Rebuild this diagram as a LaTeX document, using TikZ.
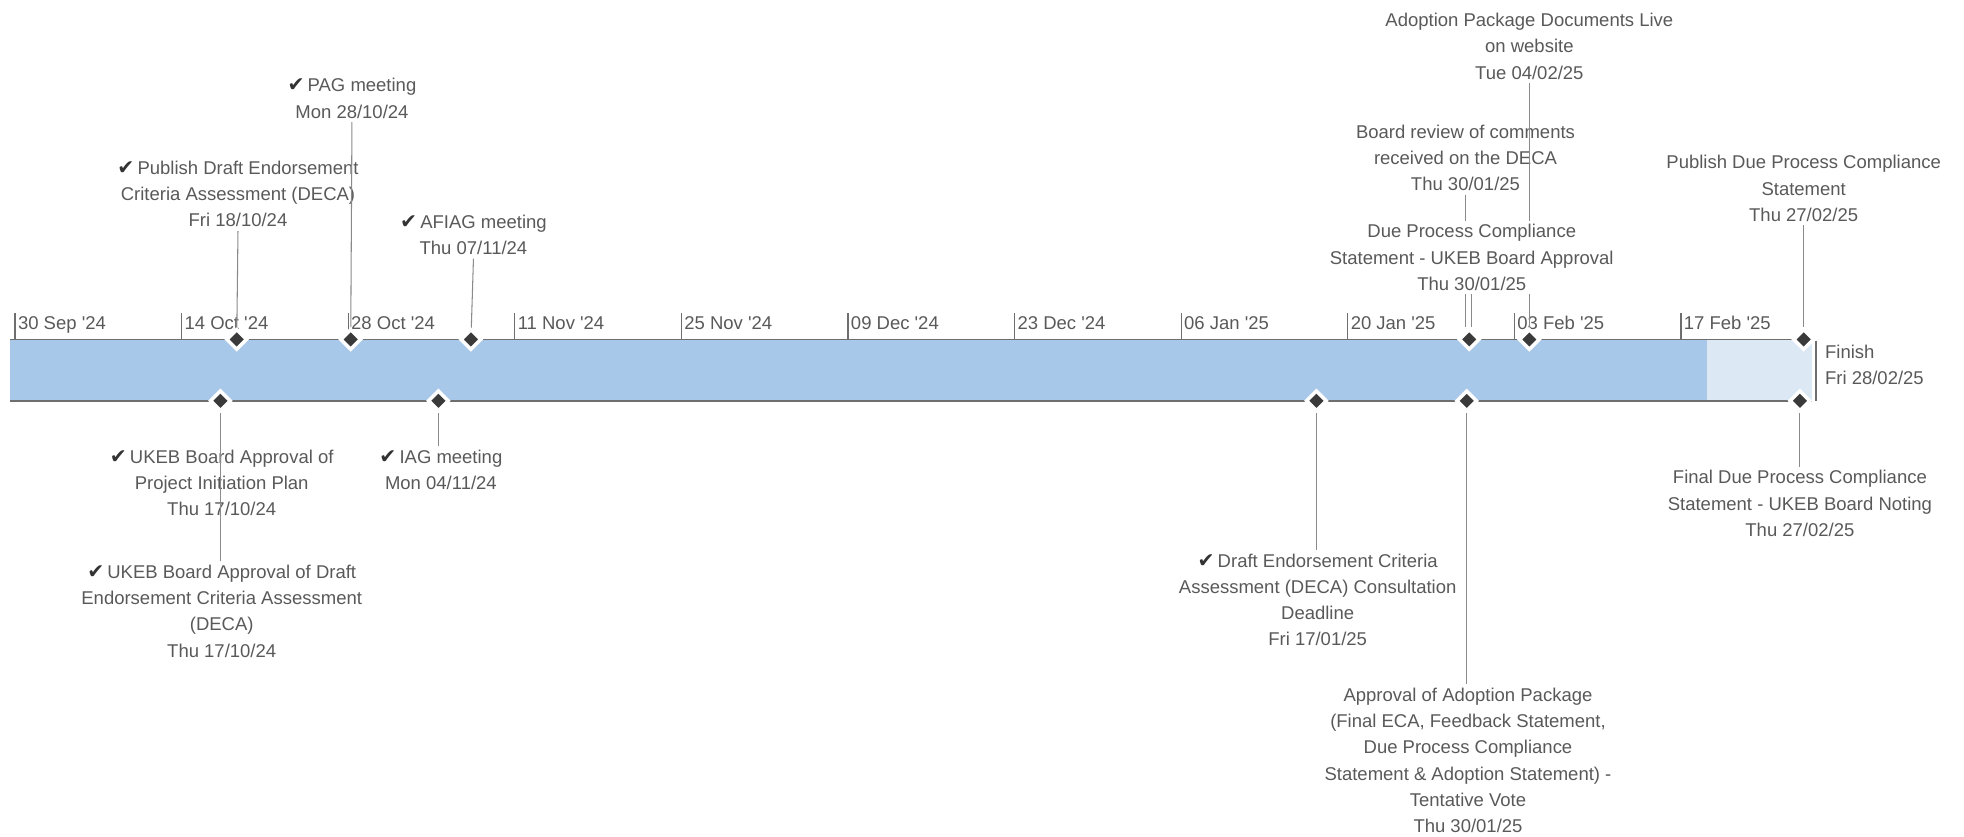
\documentclass[tikz,border=0pt]{standalone}
\usepackage{fontspec}
\setmainfont{Liberation Sans}[Ligatures=TeXOff]
\newfontfamily\checkfont{DejaVu Sans}
\usetikzlibrary{shapes.geometric}

\definecolor{txtgray}{HTML}{595959}
\definecolor{ckgray}{HTML}{333333}
\definecolor{barblue}{HTML}{A8C8E9}
\definecolor{barlight}{HTML}{DDE8F5}
\definecolor{linegray}{HTML}{8A8A8A}
\definecolor{axisgray}{HTML}{6E6E6E}
\definecolor{msdark}{HTML}{3A3A3A}

\newcommand{\eventfont}{\fontsize{10.5}{14.9}\selectfont}
\newcommand{\done}{{\checkfont\color{ckgray}\fontsize{11.5}{14.9}\selectfont ✔}\,}

\tikzstyle{milestone} = [diamond, fill=msdark, draw=white, line width=2pt, minimum size=0.42cm, inner sep=0pt]
\tikzstyle{event} = [align=center, text=txtgray, font=\eventfont, inner sep=2pt]
\tikzstyle{lead} = [draw=linegray, line width=0.6pt]
\tikzstyle{axis} = [draw=axisgray, line width=0.9pt]
\tikzstyle{datelabel} = [anchor=south west, text=txtgray, font=\eventfont, inner xsep=1.5pt, inner ysep=5.5pt, text height=7.5pt, text depth=0pt]
\tikzstyle{tickmark} = [draw=axisgray, line width=0.7pt]

\begin{document}
\begin{tikzpicture}[x=0.025cm, y=-0.025cm]

\useasboundingbox (0,0) rectangle (1568,668);

% timeline bar
\fill [barblue] (8,271) rectangle (1363,320);
\fill [barlight] (1363,271) rectangle (1447,320);
\draw [axis] (8,271) -- (1447,271);
\draw [axis] (8,320) -- (1447,320);
\draw [axis] (1450,272) -- (1450,320);
\node (finish) [event, anchor=west, align=left] at (1454,291.5) {Finish\\Fri 28/02/25};

% week scale
\node (w1) [datelabel] at (12,271) {30 Sep '24};
\node (w2) [datelabel] at (145,271) {14 Oct '24};
\node (w3) [datelabel] at (278,271) {28 Oct '24};
\node (w4) [datelabel] at (411,271) {11 Nov '24};
\node (w5) [datelabel] at (544,271) {25 Nov '24};
\node (w6) [datelabel] at (677,271) {09 Dec '24};
\node (w7) [datelabel] at (810,271) {23 Dec '24};
\node (w8) [datelabel] at (943,271) {06 Jan '25};
\node (w9) [datelabel] at (1076,271) {20 Jan '25};
\node (w10) [datelabel] at (1209,271) {03 Feb '25};
\node (w11) [datelabel] at (1342,271) {17 Feb '25};
\draw [tickmark] (w1.south west) -- ++(0,-21);
\draw [tickmark] (w2.south west) -- ++(0,-21);
\draw [tickmark] (w3.south west) -- ++(0,-21);
\draw [tickmark] (w4.south west) -- ++(0,-21);
\draw [tickmark] (w5.south west) -- ++(0,-21);
\draw [tickmark] (w6.south west) -- ++(0,-21);
\draw [tickmark] (w7.south west) -- ++(0,-21);
\draw [tickmark] (w8.south west) -- ++(0,-21);
\draw [tickmark] (w9.south west) -- ++(0,-21);
\draw [tickmark] (w10.south west) -- ++(0,-21);
\draw [tickmark] (w11.south west) -- ++(0,-21);

% milestones above the bar
\node (d1810) [milestone] at (189,271) {};
\node (d2810) [milestone] at (280,271) {};
\node (d0711) [milestone] at (376,271) {};
\node (d3001t) [milestone] at (1173,271) {};
\node (d0402) [milestone] at (1221,271) {};
\node (d2702t) [milestone] at (1440,271) {};

% milestones below the bar
\node (d1710) [milestone] at (176,320) {};
\node (d0411) [milestone] at (350,320) {};
\node (d1701) [milestone] at (1051,320) {};
\node (d3001b) [milestone] at (1171,320) {};
\node (d2702b) [milestone] at (1437,320) {};

% top events
\node (pag) [event] at (281,78.5) {\done PAG meeting\\Mon 28/10/24};
\node (pub) [event] at (190,155) {\done Publish Draft Endorsement\\Criteria Assessment (DECA)\\Fri 18/10/24};
\node (afiag) [event] at (378,187.5) {\done AFIAG meeting\\Thu 07/11/24};
\node (pubdpcs) [event] at (1440,150.5) {Publish Due Process Compliance\\Statement\\Thu 27/02/25};
\draw [lead] (pag.south) -- (d2810);
\draw [lead] (pub.south) -- (d1810);
\draw [lead] (afiag.south) -- (d0711);
\draw [lead] (pubdpcs.south) -- (d2702t);

\node (review) [event] at (1170,126) {Board review of comments\\received on the DECA\\Thu 30/01/25};
\node (live) [event] at (1221,37) {Adoption Package Documents Live\\on website\\Tue 04/02/25};
\draw [lead] (review.south) -- (review.south |- d3001t.north);
\draw [lead] (live.south) -- (d0402);
\node (dpcs) [event, fill=white] at (1175,205.5) {Due Process Compliance\\Statement - UKEB Board Approval\\Thu 30/01/25};
\draw [lead] (dpcs.south) -- (dpcs.south |- d3001t.north);

% bottom events
\node (pip) [event] at (177,385.5) {\done UKEB Board Approval of\\Project Initiation Plan\\Thu 17/10/24};
\node (deca) [event] at (177,488) {\done UKEB Board Approval of Draft\\Endorsement Criteria Assessment\\(DECA)\\Thu 17/10/24};
\node (iag) [event] at (352,375) {\done IAG meeting\\Mon 04/11/24};
\node (cons) [event] at (1052,479) {\done Draft Endorsement Criteria\\Assessment (DECA) Consultation\\Deadline\\Fri 17/01/25};
\node (adopt) [event] at (1172,607) {Approval of Adoption Package\\(Final ECA, Feedback Statement,\\Due Process Compliance\\Statement \& Adoption Statement) -\\Tentative Vote\\Thu 30/01/25};
\node (noting) [event] at (1437,402) {Final Due Process Compliance\\Statement - UKEB Board Noting\\Thu 27/02/25};
\draw [lead] (d1710) -- (pip.north -| d1710);
\draw [lead] (d1710) -- (deca.north -| d1710);
\draw [lead] (d0411) -- (iag.north -| d0411);
\draw [lead] (d1701) -- (cons.north -| d1701);
\draw [lead] (d3001b) -- (adopt.north -| d3001b);
\draw [lead] (d2702b) -- (noting.north -| d2702b);

\end{tikzpicture}
\end{document}
